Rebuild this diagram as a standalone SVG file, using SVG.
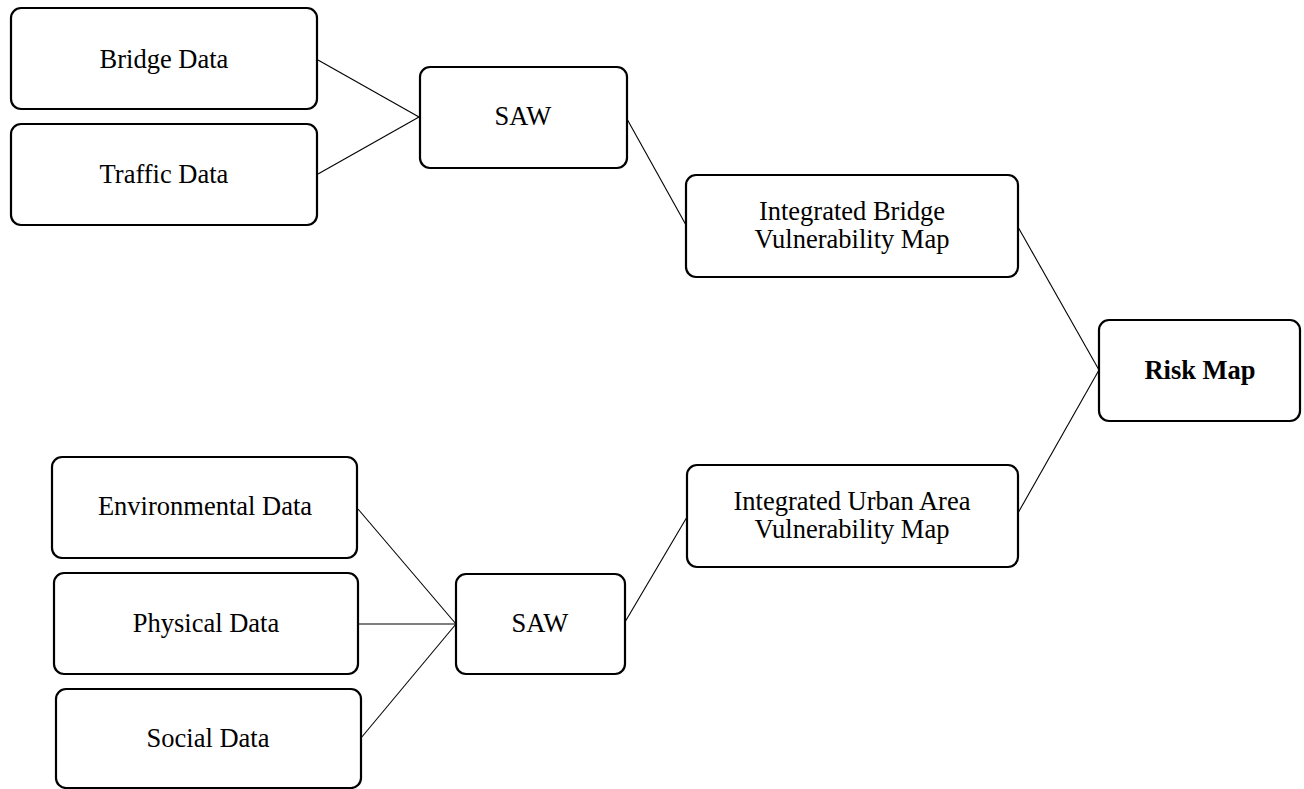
<svg xmlns="http://www.w3.org/2000/svg" width="1304" height="789" viewBox="0 0 1304 789">
<style>
.box{fill:#fff;stroke:#000;stroke-width:2.2}
.t{font-family:"Liberation Serif","Times New Roman",serif;font-size:26.5px;fill:#000;text-anchor:middle}
.b{font-weight:bold}
.c{stroke:#000;stroke-width:1.1;fill:none}
</style>
<rect width="1304" height="789" fill="#fff"/>
<g id="connectors">
<line class="c" x1="318" y1="60" x2="419" y2="117"/>
<line class="c" x1="318" y1="174" x2="419" y2="117"/>
<line class="c" x1="627" y1="119" x2="686" y2="225"/>
<line class="c" x1="1018" y1="227" x2="1099" y2="370"/>
<line class="c" x1="1018" y1="513" x2="1099" y2="370"/>
<line class="c" x1="358" y1="509" x2="456" y2="624"/>
<line class="c" x1="358" y1="624" x2="456" y2="624"/>
<line class="c" x1="361" y1="738" x2="456" y2="624"/>
<line class="c" x1="625" y1="622" x2="687" y2="517"/>
</g>
<g id="bridge-data">
<rect class="box" x="11" y="8" width="306" height="101" rx="10"/>
<text class="t" x="164" y="68">Bridge Data</text>
</g>
<g id="traffic-data">
<rect class="box" x="11" y="124" width="306" height="101" rx="10"/>
<text class="t" x="164" y="183">Traffic Data</text>
</g>
<g id="saw-top">
<rect class="box" x="420" y="67" width="207" height="101" rx="10"/>
<text class="t" x="523" y="125">SAW</text>
</g>
<g id="integrated-bridge">
<rect class="box" x="686" y="175" width="332" height="102" rx="10"/>
<text class="t" x="852" y="220">Integrated Bridge</text>
<text class="t" x="852" y="248">Vulnerability Map</text>
</g>
<g id="risk-map">
<rect class="box" x="1099" y="320" width="201" height="101" rx="10"/>
<text class="t b" x="1200" y="379">Risk Map</text>
</g>
<g id="integrated-urban">
<rect class="box" x="687" y="465" width="331" height="102" rx="10"/>
<text class="t" x="852" y="510">Integrated Urban Area</text>
<text class="t" x="852" y="538">Vulnerability Map</text>
</g>
<g id="environmental-data">
<rect class="box" x="52" y="457" width="305" height="101" rx="10"/>
<text class="t" x="205" y="515">Environmental Data</text>
</g>
<g id="physical-data">
<rect class="box" x="54" y="573" width="304" height="101" rx="10"/>
<text class="t" x="206" y="632">Physical Data</text>
</g>
<g id="social-data">
<rect class="box" x="56" y="689" width="305" height="99" rx="10"/>
<text class="t" x="208" y="747">Social Data</text>
</g>
<g id="saw-bottom">
<rect class="box" x="456" y="574" width="169" height="100" rx="10"/>
<text class="t" x="540" y="632">SAW</text>
</g>
</svg>
